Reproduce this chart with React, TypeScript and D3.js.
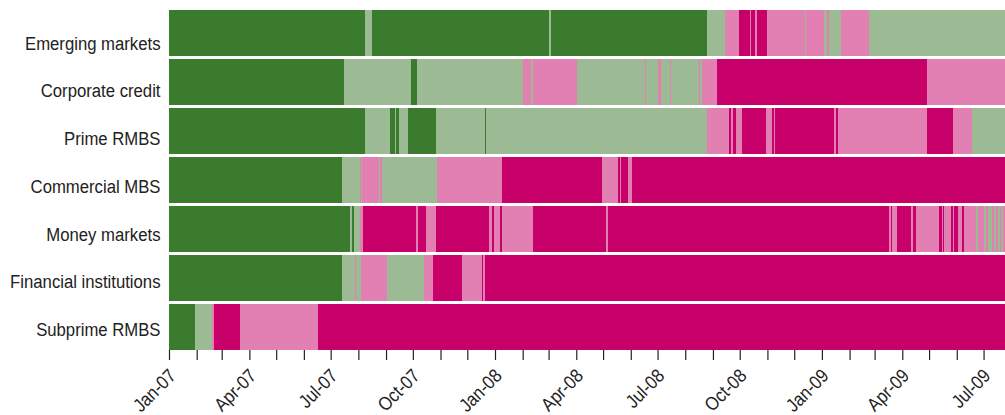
import React, { useEffect, useRef } from "react";
import * as d3 from "d3";

// rows, top to bottom
const categories = [
  "Emerging markets",
  "Corporate credit",
  "Prime RMBS",
  "Commercial MBS",
  "Money markets",
  "Financial institutions",
  "Subprime RMBS",
];

// 1 = low stress ... 4 = high stress
const levelColors = ["#3a7b2e", "#9cbb95", "#e380b3", "#c8006a"];

// each entry: [start date, level]; a segment runs until the next start
const emergingMarkets: [string, number][] = [
  ["2007-01-01", 1], ["2007-08-08", 2], ["2007-08-16", 1], ["2008-03-01", 2],
  ["2008-03-04", 1], ["2008-08-25", 2], ["2008-09-14", 3], ["2008-09-30", 4],
  ["2008-10-12", 3], ["2008-10-14", 4], ["2008-10-18", 3], ["2008-10-20", 4],
  ["2008-10-31", 3], ["2008-12-13", 2], ["2008-12-14", 3], ["2009-01-03", 2],
  ["2009-01-07", 3], ["2009-01-09", 2], ["2009-01-22", 3], ["2009-02-23", 2],
];

const corporateCredit: [string, number][] = [
  ["2007-01-01", 1], ["2007-07-16", 2], ["2007-09-29", 1], ["2007-10-06", 2],
  ["2008-02-01", 3], ["2008-02-10", 2], ["2008-02-13", 3], ["2008-04-02", 2],
  ["2008-06-17", 3], ["2008-06-18", 2], ["2008-07-02", 3], ["2008-07-05", 2],
  ["2008-07-15", 3], ["2008-07-16", 2], ["2008-08-16", 3], ["2008-08-18", 2],
  ["2008-08-20", 3], ["2008-09-05", 4], ["2009-04-29", 3],
];

const primeRmbs: [string, number][] = [
  ["2007-01-01", 1], ["2007-08-08", 2], ["2007-09-05", 1], ["2007-09-11", 2],
  ["2007-09-12", 1], ["2007-09-15", 2], ["2007-09-26", 1], ["2007-10-27", 2],
  ["2007-12-21", 1], ["2007-12-22", 2], ["2008-08-25", 3], ["2008-09-19", 4],
  ["2008-09-21", 3], ["2008-09-24", 4], ["2008-09-27", 3], ["2008-10-03", 4],
  ["2008-10-30", 3], ["2008-11-06", 4], ["2008-11-08", 3], ["2008-11-10", 4],
  ["2009-01-15", 3], ["2009-01-17", 4], ["2009-01-19", 3], ["2009-04-29", 4],
  ["2009-05-28", 3], ["2009-06-18", 2],
];

const commercialMbs: [string, number][] = [
  ["2007-01-01", 1], ["2007-07-14", 2], ["2007-08-03", 3], ["2007-08-04", 2],
  ["2007-08-05", 3], ["2007-08-24", 2], ["2007-08-25", 3], ["2007-08-28", 2],
  ["2007-10-28", 3], ["2008-01-09", 4], ["2008-04-30", 3], ["2008-05-18", 4],
  ["2008-05-20", 3], ["2008-05-21", 4], ["2008-05-29", 3], ["2008-06-02", 4],
];

const moneyMarkets: [string, number][] = [
  ["2007-01-01", 1], ["2007-07-23", 2], ["2007-07-25", 1], ["2007-07-27", 2],
  ["2007-08-03", 3], ["2007-08-06", 4], ["2007-10-05", 3], ["2007-10-07", 4],
  ["2007-10-16", 3], ["2007-10-27", 4], ["2007-12-25", 3], ["2007-12-27", 4],
  ["2007-12-28", 3], ["2007-12-29", 4], ["2007-12-31", 3], ["2008-01-07", 4],
  ["2008-01-09", 3], ["2008-02-12", 4], ["2008-05-04", 3], ["2008-05-06", 4],
  ["2009-03-17", 3], ["2009-03-19", 4], ["2009-03-20", 3], ["2009-03-26", 4],
  ["2009-04-11", 3], ["2009-04-13", 4], ["2009-04-16", 3], ["2009-05-12", 4],
  ["2009-05-15", 3], ["2009-05-17", 4], ["2009-05-18", 3], ["2009-05-25", 4],
  ["2009-05-28", 3], ["2009-05-29", 4], ["2009-06-02", 3], ["2009-06-07", 4],
  ["2009-06-09", 3], ["2009-06-22", 2], ["2009-06-25", 3], ["2009-07-01", 2],
  ["2009-07-04", 3], ["2009-07-06", 2], ["2009-07-10", 3], ["2009-07-13", 2],
  ["2009-07-15", 3], ["2009-07-17", 2], ["2009-07-19", 3], ["2009-07-21", 2],
  ["2009-07-23", 3],
];

const financialInstitutions: [string, number][] = [
  ["2007-01-01", 1], ["2007-07-14", 2], ["2007-07-28", 3], ["2007-07-29", 2],
  ["2007-08-04", 3], ["2007-09-02", 2], ["2007-10-14", 3], ["2007-10-24", 4],
  ["2007-11-25", 3], ["2007-12-17", 4], ["2007-12-19", 3], ["2007-12-21", 4],
];

const subprimeRmbs: [string, number][] = [
  ["2007-01-01", 1], ["2007-01-30", 2], ["2007-02-18", 3], ["2007-02-20", 4],
  ["2007-03-22", 3], ["2007-06-17", 4],
];

const rows = [
  emergingMarkets,
  corporateCredit,
  primeRmbs,
  commercialMbs,
  moneyMarkets,
  financialInstitutions,
  subprimeRmbs,
];

const startDate = "2007-01-01";
const endDate = "2009-07-25";

const tickLabels = [
  "Jan-07", "Apr-07", "Jul-07", "Oct-07", "Jan-08", "Apr-08",
  "Jul-08", "Oct-08", "Jan-09", "Apr-09", "Jul-09",
];

// no narrow font installed, so squeeze Liberation Sans horizontally
const FONT = "'Liberation Sans', Arial, sans-serif";
const SQUEEZE = 0.88;

export default function App() {
  const ref = useRef<SVGSVGElement>(null);

  useEffect(() => {
    const svg = d3.select(ref.current);
    svg.selectAll("*").remove();

    const width = 1005,
      margin = { top: 10, right: 0, bottom: 65, left: 169 };

    const parseDate = d3.timeParse("%Y-%m-%d");
    const parseTick = d3.timeParse("%b-%y");
    const t0 = parseDate(startDate) as Date;
    const t1 = parseDate(endDate) as Date;

    const x = d3
      .scaleTime()
      .domain([t0, t1])
      .range([margin.left, width - margin.right]);

    const y = d3
      .scaleBand()
      .domain(categories)
      .range([margin.top, 349.7])
      .paddingInner(0.067);

    // labels sit on their own slightly tighter spacing
    const yLabel = d3.scalePoint().domain(categories).range([49.5, 336]);

    // flatten into segments
    const segments: { cat: string; start: Date; end: Date; level: number }[] = [];
    rows.forEach((row, i) => {
      row.forEach((d, j) => {
        const start = parseDate(d[0]) as Date;
        const end = j < row.length - 1 ? (parseDate(row[j + 1][0]) as Date) : t1;
        segments.push({ cat: categories[i], start, end, level: d[1] });
      });
    });

    svg
      .append("g")
      .selectAll("rect")
      .data(segments)
      .join("rect")
      .attr("x", (d) => x(d.start))
      .attr("y", (d) => y(d.cat) as number)
      .attr("width", (d) => x(d.end) - x(d.start))
      .attr("height", y.bandwidth())
      .attr("fill", (d) => levelColors[d.level - 1])
      .attr("shape-rendering", "crispEdges");

    // category labels
    svg
      .append("g")
      .selectAll("text")
      .data(categories)
      .join("text")
      .attr(
        "transform",
        (d) =>
          "translate(" + (margin.left - 8.5) + "," + yLabel(d) + ") scale(" + SQUEEZE + ",1)"
      )
      .attr("text-anchor", "end")
      .style("font-family", FONT)
      .style("font-size", "19px")
      .style("fill", "#222")
      .text((d) => d);

    // monthly ticks
    const xAxis = d3
      .axisBottom(x)
      .tickValues(d3.timeMonth.range(t0, t1))
      .tickSize(10)
      .tickFormat(() => "");

    const axisG = svg
      .append("g")
      .attr("transform", "translate(0,350)")
      .call(xAxis);
    axisG.select(".domain").remove();
    axisG.selectAll(".tick line").attr("stroke", "#222").attr("stroke-width", 1.2);

    // quarterly labels
    svg
      .append("g")
      .selectAll("text")
      .data(tickLabels)
      .join("text")
      .attr(
        "transform",
        (d) =>
          "translate(" +
          (x(parseTick(d) as Date) + 8) +
          ",377) rotate(-45) scale(" +
          SQUEEZE +
          ",1)"
      )
      .attr("text-anchor", "end")
      .style("font-family", FONT)
      .style("font-size", "19px")
      .style("fill", "#222")
      .text((d) => d);
  }, []);

  return (
    <svg
      ref={ref}
      width={1005}
      height={415}
      style={{ position: "absolute", left: 0, top: 0 }}
    />
  );
}
